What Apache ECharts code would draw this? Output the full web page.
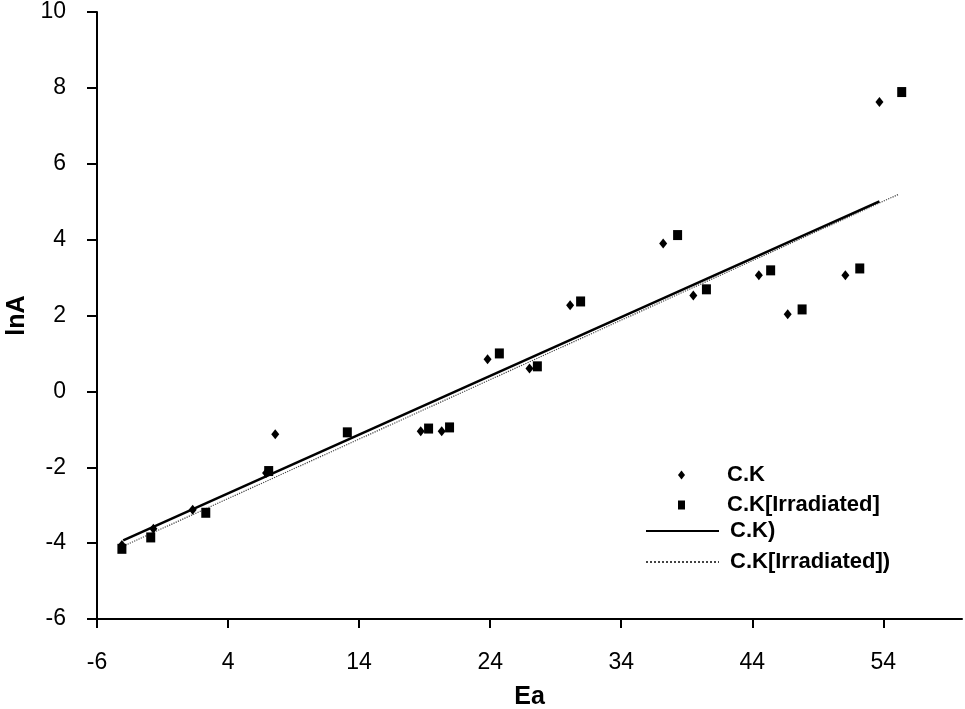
<!DOCTYPE html>
<html>
<head>
<meta charset="utf-8">
<script src="https://cdn.jsdelivr.net/npm/echarts@6/dist/echarts.min.js"></script>
<style>html,body{margin:0;padding:0;background:#fff}#c{width:965px;height:709px}</style>
</head>
<body>
<div id="c"></div>
<script>
const xTicks = [-6, 4, 14, 24, 34, 44, 54];
const yTicks = [-6, -4, -2, 0, 2, 4, 6, 8, 10];
const seriesNames = ['C.K', 'C.K[Irradiated]', 'C.K)', 'C.K[Irradiated])'];
const ckPoints = [
  [-4.1, -4.05], [-1.7, -3.62], [1.3, -3.12], [6.9, -2.15], [7.6, -1.13],
  [18.7, -1.05], [20.3, -1.05], [23.8, 0.85], [27.0, 0.6], [30.1, 2.27],
  [37.2, 3.9], [39.5, 2.53], [44.5, 3.06], [46.7, 2.03], [51.1, 3.06], [53.7, 7.63]
];
const ckIrrPoints = [
  [-4.1, -4.15], [-1.9, -3.85], [2.3, -3.2], [7.1, -2.1], [13.1, -1.08],
  [19.3, -0.98], [20.9, -0.95], [24.7, 1.0], [27.6, 0.66], [30.9, 2.37],
  [38.3, 4.12], [40.5, 2.69], [45.4, 3.19], [47.8, 2.16], [52.2, 3.24], [55.4, 7.89]
];
const ckFit = [[-4.0, -3.93], [53.7, 5.01]];
const ckIrrFit = [[-4.0, -4.08], [55.2, 5.2]];

const chart = echarts.init(document.getElementById('c'));
const font = 'Liberation Sans, Arial, sans-serif';
chart.setOption({
  backgroundColor: '#fff',
  animation: false,
  grid: { left: 97, top: 12, right: 3, bottom: 90, containLabel: false, outerBoundsMode: 'none' },
  xAxis: {
    type: 'value', min: -6, max: 60, interval: 10,
    name: 'Ea', nameLocation: 'middle', nameGap: 66,
    nameTextStyle: { fontFamily: font, fontSize: 25, fontWeight: 'bold', color: '#000' },
    axisLine: { onZero: false, lineStyle: { color: '#000', width: 2 } },
    axisTick: { show: true, length: 9, lineStyle: { color: '#000', width: 2 }, customValues: xTicks },
    axisLabel: { fontFamily: font, fontSize: 23, color: '#000', margin: 32, customValues: xTicks },
    splitLine: { show: false }
  },
  yAxis: {
    type: 'value', min: -6, max: 10, interval: 2,
    name: 'lnA', nameLocation: 'middle', nameGap: 66,
    nameTextStyle: { fontFamily: font, fontSize: 25, fontWeight: 'bold', color: '#000' },
    axisLine: { show: true, onZero: false, lineStyle: { color: '#000', width: 2 } },
    axisTick: { show: true, length: 10, lineStyle: { color: '#000', width: 2 } },
    axisLabel: { fontFamily: font, fontSize: 23, color: '#000', margin: 31, customValues: yTicks },
    splitLine: { show: false }
  },
  legend: [
    {
      data: [seriesNames[0], seriesNames[1]], orient: 'vertical', left: 678, top: 464,
      padding: 0, itemWidth: 7, itemHeight: 9, itemGap: 8,
      textStyle: { fontFamily: font, fontSize: 22, fontWeight: 'bold', color: '#000', lineHeight: 22, padding: [0, 0, 0, 37] }
    },
    {
      data: [seriesNames[2], seriesNames[3]], orient: 'vertical', left: 645, top: 520,
      padding: 0, itemWidth: 73, itemHeight: 10, itemGap: 9,
      itemStyle: { opacity: 0 },
      textStyle: { fontFamily: font, fontSize: 22, fontWeight: 'bold', color: '#000', lineHeight: 22, padding: [0, 0, 0, 6] }
    }
  ],
  series: [
    { name: seriesNames[0], type: 'scatter', symbol: 'diamond', symbolSize: [8, 10], data: ckPoints, itemStyle: { color: '#000', opacity: 1 }, z: 5 },
    { name: seriesNames[1], type: 'scatter', symbol: 'rect', symbolSize: [9, 10], data: ckIrrPoints, itemStyle: { color: '#000', opacity: 1 }, z: 5 },
    { name: seriesNames[2], type: 'line', symbol: 'none', data: ckFit, lineStyle: { color: '#000', width: 2.5, type: 'solid' }, itemStyle: { color: '#000' }, z: 3 },
    { name: seriesNames[3], type: 'line', symbol: 'none', data: ckIrrFit, lineStyle: { color: '#444', width: 1.2, type: 'dotted' }, itemStyle: { color: '#444' }, z: 2 }
  ]
});
</script>
</body>
</html>
